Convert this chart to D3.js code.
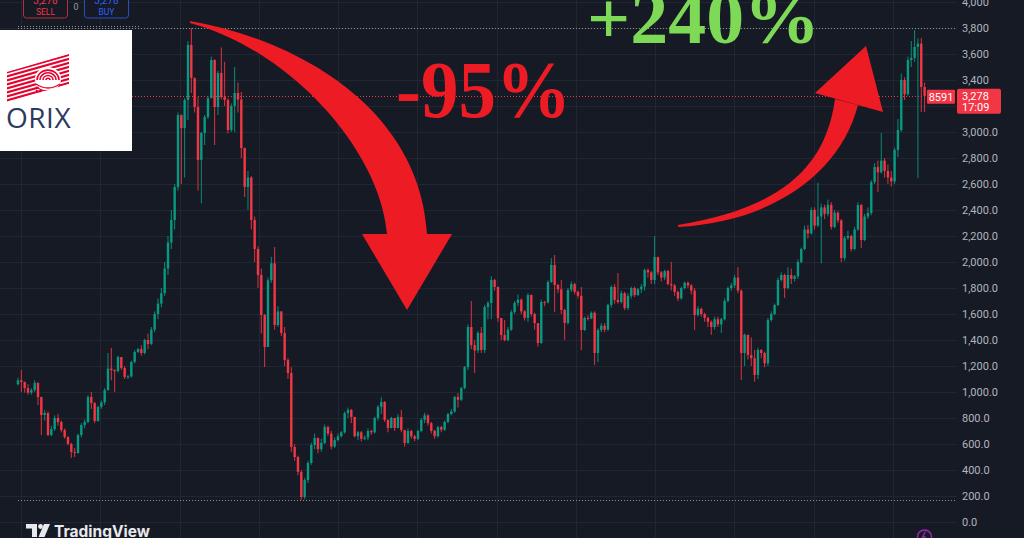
<!DOCTYPE html>
<html><head><meta charset="utf-8">
<script src="https://cdn.jsdelivr.net/npm/d3@7"></script>
<style>html,body{margin:0;padding:0;background:#161a25;overflow:hidden}</style>
</head><body><svg id="c" width="1024" height="538"></svg>
<script>
// ---- DATA (monthly candles) ----
const firstOpen = 1060;
const closes = [1090,1077,1030,995,1015,1069,962,823,838,669,715,800,769,708,654,600,538,531,669,746,
769,962,915,777,885,920,1015,1180,1169,1160,1269,1185,1115,1120,1231,1308,1330,1300,1400,1370,
1480,1600,1680,1760,1950,2150,2323,2577,3130,3030,3246,3670,3415,3192,2785,2992,3115,3260,3554,3192,
3454,3270,3246,3015,3200,3300,3250,2877,2577,2650,2323,2100,1900,1592,1346,1860,1990,1515,1620,1454,
1246,1146,577,500,385,192,323,454,592,646,560,608,730,680,580,630,660,690,838,862,
808,660,690,640,650,700,690,800,885,923,785,723,800,723,808,708,608,700,660,640,
700,785,820,760,700,660,730,710,770,830,850,962,940,1031,1192,1500,1361,1320,1454,1323,
1654,1685,1862,1808,1569,1438,1400,1480,1615,1685,1710,1620,1570,1746,1600,1530,1377,1692,1690,1846,
1977,1823,1790,1631,1531,1785,1830,1770,1740,1477,1570,1565,1610,1300,1477,1510,1480,1670,1808,1708,
1692,1760,1646,1740,1800,1746,1790,1810,1938,1920,1862,2038,1920,1880,1930,1830,1820,1770,1720,1800,
1840,1820,1780,1592,1640,1600,1570,1540,1500,1560,1520,1560,1700,1800,1820,1880,1780,1300,1440,1285,
1260,1131,1323,1300,1220,1554,1600,1669,1862,1900,1800,1900,1870,1890,2000,2100,2250,2220,2400,2280,
2350,2420,2370,2440,2270,2380,2320,2031,2185,2200,2100,2250,2438,2169,2350,2377,2615,2730,2690,2780,
2700,2650,2620,2862,3015,3400,3290,3554,3570,3654,3680,3346,3278];
const highs = [1110,1170,1080,1060,1030,1090,1077,950,860,850,740,820,830,780,720,660,610,570,680,760,
790,975,1000,923,895,935,1030,1300,1340,1175,1280,1260,1200,1130,1240,1320,1340,1360,1410,1450,
1500,1620,1720,1800,2000,2200,2400,2600,3150,3135,3260,3700,3800,3420,3270,3000,3130,3280,3580,3560,
3470,3650,3540,3260,3220,3500,3380,3308,2880,2700,2660,2350,2120,1950,1600,1880,2040,2115,1660,1620,
1500,1261,1192,600,510,400,340,470,610,680,650,640,750,740,700,650,680,700,850,880,
870,810,700,700,665,720,710,810,900,960,930,790,810,800,830,862,708,720,710,670,
710,800,840,830,770,710,740,740,780,840,870,970,992,1040,1200,1520,1700,1400,1470,1500,
1670,1700,1890,1870,1810,1560,1554,1500,1630,1700,1750,1720,1630,1760,1750,1610,1530,1710,1700,1860,
2030,2054,1830,1862,1640,1800,1850,1840,1780,1808,1580,1590,1620,1620,1490,1530,1530,1680,1820,1830,
1915,1780,1770,1760,1810,1810,1800,1830,1950,1950,1930,2200,2040,1930,1940,1940,2000,1830,1780,1810,
1850,1850,1830,1800,1660,1650,1610,1580,1550,1580,1580,1570,1720,1810,1840,1900,1960,1790,1450,1440,
1420,1323,1340,1330,1310,1570,1620,1680,1880,1920,1910,1960,1950,1900,2020,2110,2280,2285,2420,2420,
2610,2450,2440,2480,2460,2400,2390,2330,2200,2240,2210,2270,2460,2446,2370,2420,2630,2760,2780,2992,
2800,2750,2700,2880,3100,3450,3420,3580,3700,3785,3720,3723,3380];
const lows = [1050,1000,995,980,980,1000,900,669,780,660,660,700,740,690,640,590,492,500,525,650,
720,760,870,760,770,870,900,1010,1090,1000,1150,1170,1100,1100,1110,1220,1300,1280,1290,1330,
1360,1460,1560,1650,1740,1900,2100,2250,2550,2600,2650,3092,3300,3150,2550,2450,2900,3100,3300,2900,
3130,3250,3200,2990,3000,3000,3150,2800,2500,2400,2250,2000,1800,1450,1192,1346,1840,1480,1500,1430,
1200,1100,540,470,360,170,175,300,440,560,530,540,600,660,560,570,620,650,680,800,
760,650,630,620,630,630,670,680,780,830,770,690,720,700,720,690,580,600,640,620,
630,690,760,740,680,640,650,690,700,760,820,840,880,930,1020,1169,1330,1146,1300,1300,
1300,1560,1560,1780,1540,1400,1390,1390,1470,1600,1660,1600,1550,1540,1580,1480,1350,1370,1660,1680,
1838,1615,1760,1600,1400,1520,1770,1750,1720,1323,1470,1550,1560,1208,1230,1460,1460,1470,1650,1680,
1680,1680,1630,1630,1720,1730,1740,1760,1780,1880,1830,1830,1900,1850,1860,1820,1780,1740,1700,1710,
1790,1800,1750,1477,1580,1580,1540,1500,1440,1480,1500,1454,1550,1690,1780,1800,1760,1092,1200,1250,
1200,1080,1100,1260,1190,1200,1540,1590,1660,1850,1723,1790,1830,1850,1870,1990,2090,2180,2210,2250,
2270,1990,2330,2350,2250,2260,2300,2000,2010,2170,2080,2090,2240,2108,2160,2330,2360,2600,2538,2680,
2650,2600,2580,2600,2808,3000,3246,3280,3500,3540,2646,3154,3154];
// 3,200 sits under the last-price label and is not shown
const yTicks = [0,200,400,600,800,1000,1200,1400,1600,1800,2000,2200,2400,2600,2800,3000,3400,3600,3800,4000];
const yTickLabels = ["0.0","200.0","400.0","600.0","800.0","1,000.0","1,200.0","1,400.0","1,600.0","1,800.0","2,000.0","2,200.0","2,400.0","2,600.0","2,800.0","3,000.0","3,400","3,600","3,800","4,000"];
const gridLevels = [0,200,400,600,800,1000,1200,1400,1600,1800,2000,2200,2400,2600,2800,3000,3200,3400,3600,3800,4000];
const gridYears = [2002,2004,2006,2008,2010,2012,2014,2016,2018,2020,2022,2024];
const lastPrice = 3278, lastPriceText = "3,278", countdown = "17:09", volText = "8591";

// ---- SCALES ----
const W = 1024, H = 538, plotRight = 957;
const svg = d3.select("#c");
const N = closes.length;
const opens = closes.map((c,i)=> i===0 ? firstOpen : closes[i-1]);
const x = d3.scaleLinear().domain([0, N-1]).range([18, 924.6]);
const xYear = d3.scaleLinear().domain([2002, 2024]).range([21, 893]);
const y = d3.scaleLinear().domain([0, 4000]).range([522, 2]);
const UP = "#089981", DN = "#f23645";

svg.append("rect").attr("width",W).attr("height",H).attr("fill","#161a25");

// grid
svg.append("g").selectAll("line").data(gridLevels).join("line")
  .attr("x1",0).attr("x2",plotRight).attr("y1",d=>Math.round(y(d))+0.5).attr("y2",d=>Math.round(y(d))+0.5)
  .attr("stroke","#222632").attr("stroke-width",1);
svg.append("g").selectAll("line").data(gridYears).join("line")
  .attr("x1",d=>Math.round(xYear(d))+0.5).attr("x2",d=>Math.round(xYear(d))+0.5).attr("y1",0).attr("y2",H)
  .attr("stroke","#222632").attr("stroke-width",1);

// high / low markers
const hi = d3.max(highs), lo = d3.min(lows);
[hi, lo].forEach(v=>{
  svg.append("line").attr("x1",18).attr("x2",plotRight).attr("y1",Math.round(y(v))+0.5).attr("y2",Math.round(y(v))+0.5)
    .attr("stroke","#8e919a").attr("stroke-width",1).attr("stroke-dasharray","1,2");
});

// candles
const cg = svg.append("g");
const bw = 2.4;
d3.range(N).forEach(i=>{
  const o = opens[i], c = closes[i], col = c >= o ? UP : DN;
  cg.append("line").attr("x1",x(i)).attr("x2",x(i)).attr("y1",y(highs[i])).attr("y2",y(lows[i]))
    .attr("stroke",col).attr("stroke-width",0.9);
  const top = y(Math.max(o,c)), bot = y(Math.min(o,c));
  cg.append("rect").attr("x",x(i)-bw/2).attr("width",bw).attr("y",top).attr("height",Math.max(1,bot-top)).attr("fill",col);
});

// current price line
svg.append("line").attr("x1",0).attr("x2",plotRight).attr("y1",Math.round(y(lastPrice))+0.5).attr("y2",Math.round(y(lastPrice))+0.5)
  .attr("stroke",DN).attr("stroke-width",1).attr("stroke-dasharray","1,2");

// y axis labels
svg.append("g").selectAll("text").data(yTicks).join("text")
  .attr("x",962).attr("y",d=>y(d)+4).text((d,i)=>yTickLabels[i])
  .attr("fill","#b2b5be").attr("font-family","Roboto, sans-serif").attr("font-size",11);

// price label
const py = y(lastPrice);
svg.append("rect").attr("x",957).attr("y",py-7).attr("width",44).attr("height",25).attr("rx",2).attr("fill",DN);
svg.append("text").attr("x",962).attr("y",py+4).text(lastPriceText).attr("fill","#fff").attr("font-family","Roboto, sans-serif").attr("font-size",11);
svg.append("text").attr("x",962).attr("y",py+15).text(countdown).attr("fill","#fff").attr("font-family","Roboto, sans-serif").attr("font-size",11);
svg.append("rect").attr("x",927).attr("y",py-6).attr("width",28).attr("height",14).attr("rx",1).attr("fill",DN);
svg.append("text").attr("x",941).attr("y",py+5).attr("text-anchor","middle").text(volText).attr("fill","#fff").attr("font-family","Roboto, sans-serif").attr("font-size",11);

// SELL / BUY
svg.append("rect").attr("x",23.5).attr("y",-6).attr("width",44).attr("height",24).attr("rx",3).attr("fill","#161a25").attr("stroke","#b0303c");
svg.append("text").attr("x",45.5).attr("y",4).attr("text-anchor","middle").text(lastPriceText).attr("fill","#f23645").attr("font-family","Roboto, sans-serif").attr("font-size",10);
svg.append("text").attr("x",45.5).attr("y",15).attr("text-anchor","middle").text("SELL").attr("fill","#f23645").attr("font-family","Roboto, sans-serif").attr("font-size",8.5);
svg.append("text").attr("x",76).attr("y",10).attr("text-anchor","middle").text("0").attr("fill","#9598a1").attr("font-family","Roboto, sans-serif").attr("font-size",9);
svg.append("rect").attr("x",84.5).attr("y",-6).attr("width",44).attr("height",24).attr("rx",3).attr("fill","#161a25").attr("stroke","#2a4fc0");
svg.append("text").attr("x",106.5).attr("y",4).attr("text-anchor","middle").text(lastPriceText).attr("fill","#2962ff").attr("font-family","Roboto, sans-serif").attr("font-size",10);
svg.append("text").attr("x",106.5).attr("y",15).attr("text-anchor","middle").text("BUY").attr("fill","#2962ff").attr("font-family","Roboto, sans-serif").attr("font-size",8.5);
svg.append("line").attr("x1",18).attr("x2",140).attr("y1",26.5).attr("y2",26.5).attr("stroke","#8e919a").attr("stroke-dasharray","1,2");

// ORIX logo
const lg = svg.append("g");
lg.append("rect").attr("x",0).attr("y",30).attr("width",132).attr("height",121).attr("fill","#ffffff");
const defs = svg.append("defs");
defs.append("clipPath").attr("id","stripeClip").append("polygon").attr("points","7,72 69,54 69,84 7,102");
const sg = lg.append("g").attr("clip-path","url(#stripeClip)");
d3.range(8).forEach(k=>{
  sg.append("line").attr("x1",5).attr("y1",73+4*k).attr("x2",72).attr("y2",54+4*k).attr("stroke","#e4032e").attr("stroke-width",2.1);
});
sg.append("ellipse").attr("cx",48).attr("cy",79).attr("rx",13).attr("ry",12).attr("fill","#fff");
[11,8,5,2].forEach(r=>{
  sg.append("path").attr("d",`M${48-r},${80} A${r},${r*0.9} 0 0 1 ${48+r},${80}`).attr("fill","none").attr("stroke","#e4032e").attr("stroke-width",1.6);
});
[0,1,2].forEach(k=>{
  sg.append("path").attr("d",`M${36},${84+3*k} Q48,${92+3*k} 60,${84+3*k}`).attr("fill","none").attr("stroke","#e4032e").attr("stroke-width",1.4);
});
lg.append("text").attr("x",6).attr("y",128).text("ORIX").attr("fill","#2d3a62").attr("font-family","'Open Sans', sans-serif").attr("font-size",28).attr("letter-spacing",0.5);

// arrows
svg.append("path").attr("d","M190,21 C300,40 420,110 427,234 L387,234 C380,150 290,50 190,23 Z").attr("fill","#ed1c24");
svg.append("path").attr("d","M362,234 L452,234 L407,310 Z").attr("fill","#ed1c24");
svg.append("path").attr("d","M678,227 C770,222 840,175 858,105 L835,99 C825,175 770,210 678,225 Z").attr("fill","#ed1c24");
svg.append("path").attr("d","M815,93 L883,112 L866,46 Z").attr("fill","#ed1c24");

// big texts
svg.append("text").attr("x",396).attr("y",117).text("-95%").attr("fill","#ed1c24")
  .attr("font-family","'Liberation Serif', serif").attr("font-weight","bold").attr("font-size",80)
  .attr("textLength",175).attr("lengthAdjust","spacingAndGlyphs");
svg.append("text").attr("x",587).attr("y",43).text("+240%").attr("fill","#7ed957")
  .attr("font-family","'Liberation Serif', serif").attr("font-weight","bold").attr("font-size",74)
  .attr("textLength",233).attr("lengthAdjust","spacingAndGlyphs");

// TradingView logo
const tv = svg.append("g").attr("fill","#e8e9ec");
tv.append("path").attr("d","M26,524 H37 V537 H32 V528.5 H26 Z");
tv.append("circle").attr("cx",40.5).attr("cy",526.5).attr("r",2.4);
tv.append("path").attr("d","M44,524 H50 L44.5,537 H38.5 Z");
tv.append("text").attr("x",54).attr("y",537).text("TradingView").attr("font-family","Inter, Roboto, sans-serif").attr("font-weight",700).attr("font-size",15.5);

// purple icon
svg.append("circle").attr("cx",924.5).attr("cy",537).attr("r",7).attr("fill","none").attr("stroke","#9c27b0").attr("stroke-width",1.6);
svg.append("path").attr("d","M925.5,531.5 L922.5,537 L925,537 L923.5,541").attr("fill","none").attr("stroke","#9c27b0").attr("stroke-width",1.3);
</script></body></html>
